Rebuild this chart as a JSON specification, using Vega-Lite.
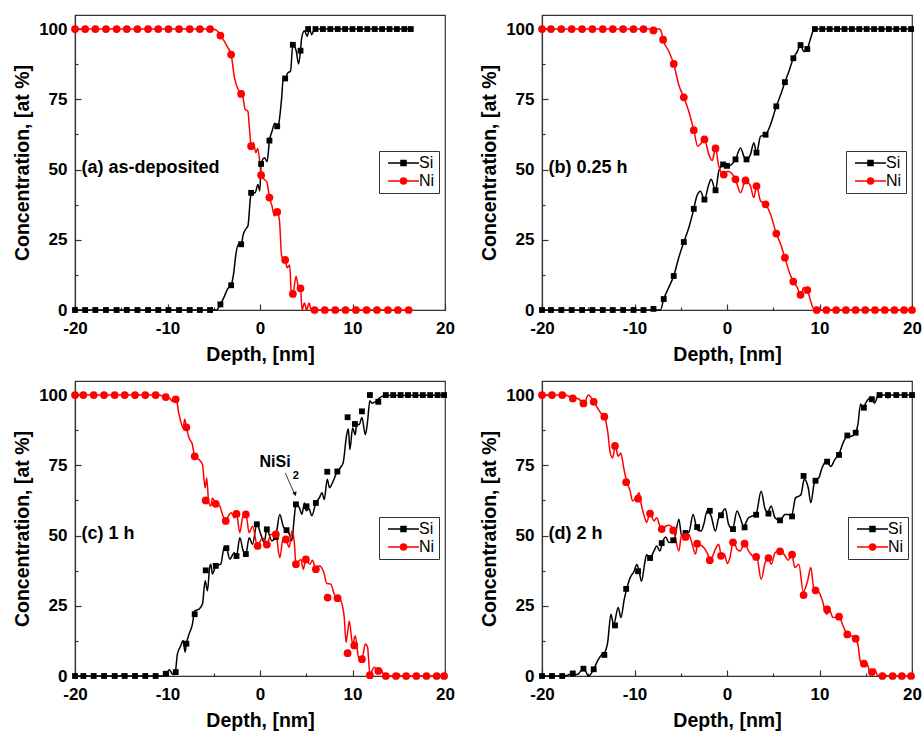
{
  "$schema": "https://vega.github.io/schema/vega-lite/v6.json",
  "padding": {"left": 12, "top": 14, "right": 0, "bottom": 0},
  "background": "white",
  "config": {
    "view": {"stroke": "#333", "strokeWidth": 1.2},
    "axis": {"labelFont": "Liberation Sans", "labelFontWeight": "bold", "labelFontSize": 17, "labelColor": "black", "titleFont": "Liberation Sans", "titleFontWeight": "bold", "titleFontSize": 19.5, "titleColor": "black", "domainColor": "#333", "domainWidth": 1.2, "tickColor": "#333", "tickWidth": 1.2, "grid": false}
  },
  "datasets": {
    "lines": [
      {"p":"a","s":"Si","d":-20,"c":0},{"p":"a","s":"Si","d":-4.7,"c":0},{"p":"a","s":"Si","d":-4.28,"c":2},{"p":"a","s":"Si","d":-3.9,"c":4.5},{"p":"a","s":"Si","d":-3.5,"c":7.5},{"p":"a","s":"Si","d":-3.12,"c":8.8},{"p":"a","s":"Si","d":-2.85,"c":13},{"p":"a","s":"Si","d":-2.6,"c":20},{"p":"a","s":"Si","d":-2.3,"c":23.5},{"p":"a","s":"Si","d":-2.04,"c":23.4},{"p":"a","s":"Si","d":-1.8,"c":27},{"p":"a","s":"Si","d":-1.5,"c":29},{"p":"a","s":"Si","d":-1.3,"c":30},{"p":"a","s":"Si","d":-1.03,"c":40},{"p":"a","s":"Si","d":-0.9,"c":41.7},{"p":"a","s":"Si","d":-0.52,"c":41.7},{"p":"a","s":"Si","d":-0.23,"c":44.7},{"p":"a","s":"Si","d":-0.02,"c":42.4},{"p":"a","s":"Si","d":0.12,"c":52},{"p":"a","s":"Si","d":0.48,"c":54.2},{"p":"a","s":"Si","d":0.77,"c":52.8},{"p":"a","s":"Si","d":1.02,"c":60.3},{"p":"a","s":"Si","d":1.3,"c":63.6},{"p":"a","s":"Si","d":1.6,"c":66.5},{"p":"a","s":"Si","d":1.86,"c":65.4},{"p":"a","s":"Si","d":2.0,"c":66},{"p":"a","s":"Si","d":2.34,"c":75.5},{"p":"a","s":"Si","d":2.52,"c":82.6},{"p":"a","s":"Si","d":2.72,"c":82.4},{"p":"a","s":"Si","d":3.01,"c":84.4},{"p":"a","s":"Si","d":3.3,"c":85},{"p":"a","s":"Si","d":3.55,"c":94.4},{"p":"a","s":"Si","d":3.92,"c":92.1},{"p":"a","s":"Si","d":4.17,"c":87.6},{"p":"a","s":"Si","d":4.38,"c":92.3},{"p":"a","s":"Si","d":4.5,"c":96.8},{"p":"a","s":"Si","d":4.81,"c":99.4},{"p":"a","s":"Si","d":5.1,"c":97.4},{"p":"a","s":"Si","d":5.35,"c":100},{"p":"a","s":"Si","d":5.6,"c":98},{"p":"a","s":"Si","d":5.9,"c":100},{"p":"a","s":"Si","d":16.3,"c":100},
      {"p":"a","s":"Ni","d":-20,"c":100},{"p":"a","s":"Ni","d":-5.1,"c":100},{"p":"a","s":"Ni","d":-4.6,"c":99.3},{"p":"a","s":"Ni","d":-4.28,"c":97.7},{"p":"a","s":"Ni","d":-3.85,"c":95.6},{"p":"a","s":"Ni","d":-3.5,"c":93.5},{"p":"a","s":"Ni","d":-3.12,"c":90.9},{"p":"a","s":"Ni","d":-2.76,"c":82.6},{"p":"a","s":"Ni","d":-2.33,"c":78.3},{"p":"a","s":"Ni","d":-2.04,"c":76.9},{"p":"a","s":"Ni","d":-1.86,"c":76},{"p":"a","s":"Ni","d":-1.61,"c":71.4},{"p":"a","s":"Ni","d":-1.32,"c":70.8},{"p":"a","s":"Ni","d":-1.1,"c":63},{"p":"a","s":"Ni","d":-0.96,"c":58.3},{"p":"a","s":"Ni","d":-0.7,"c":59.5},{"p":"a","s":"Ni","d":-0.45,"c":56},{"p":"a","s":"Ni","d":-0.25,"c":57.5},{"p":"a","s":"Ni","d":0.0,"c":52},{"p":"a","s":"Ni","d":0.12,"c":48},{"p":"a","s":"Ni","d":0.45,"c":46.5},{"p":"a","s":"Ni","d":0.75,"c":45.5},{"p":"a","s":"Ni","d":1.02,"c":40},{"p":"a","s":"Ni","d":1.3,"c":37},{"p":"a","s":"Ni","d":1.55,"c":33.5},{"p":"a","s":"Ni","d":1.86,"c":34.9},{"p":"a","s":"Ni","d":2.1,"c":32},{"p":"a","s":"Ni","d":2.35,"c":19},{"p":"a","s":"Ni","d":2.72,"c":17.8},{"p":"a","s":"Ni","d":2.95,"c":15},{"p":"a","s":"Ni","d":3.2,"c":16},{"p":"a","s":"Ni","d":3.4,"c":6},{"p":"a","s":"Ni","d":3.55,"c":5.7},{"p":"a","s":"Ni","d":3.9,"c":12},{"p":"a","s":"Ni","d":4.2,"c":7.5},{"p":"a","s":"Ni","d":4.38,"c":7.7},{"p":"a","s":"Ni","d":4.55,"c":0},{"p":"a","s":"Ni","d":4.8,"c":2.5},{"p":"a","s":"Ni","d":5.05,"c":0},{"p":"a","s":"Ni","d":5.3,"c":2.5},{"p":"a","s":"Ni","d":5.55,"c":0},{"p":"a","s":"Ni","d":16.3,"c":0},
      {"p":"b","s":"Si","d":-20,"c":0},{"p":"b","s":"Si","d":-7.2,"c":0},{"p":"b","s":"Si","d":-6.84,"c":3.9},{"p":"b","s":"Si","d":-6.3,"c":8},{"p":"b","s":"Si","d":-5.76,"c":12.1},{"p":"b","s":"Si","d":-5.22,"c":18.6},{"p":"b","s":"Si","d":-4.67,"c":24.2},{"p":"b","s":"Si","d":-4.13,"c":29.3},{"p":"b","s":"Si","d":-3.59,"c":36},{"p":"b","s":"Si","d":-3.27,"c":40.5},{"p":"b","s":"Si","d":-2.87,"c":42.3},{"p":"b","s":"Si","d":-2.44,"c":39.3},{"p":"b","s":"Si","d":-1.97,"c":44.7},{"p":"b","s":"Si","d":-1.71,"c":46.5},{"p":"b","s":"Si","d":-1.24,"c":42.6},{"p":"b","s":"Si","d":-0.89,"c":49.4},{"p":"b","s":"Si","d":-0.42,"c":51.8},{"p":"b","s":"Si","d":0.09,"c":51.2},{"p":"b","s":"Si","d":0.92,"c":53.6},{"p":"b","s":"Si","d":1.46,"c":57.7},{"p":"b","s":"Si","d":1.89,"c":54.2},{"p":"b","s":"Si","d":2.11,"c":53.6},{"p":"b","s":"Si","d":2.54,"c":55.4},{"p":"b","s":"Si","d":2.9,"c":59.5},{"p":"b","s":"Si","d":3.19,"c":56},{"p":"b","s":"Si","d":3.63,"c":61.8},{"p":"b","s":"Si","d":4.17,"c":62.4},{"p":"b","s":"Si","d":4.71,"c":66},{"p":"b","s":"Si","d":5.33,"c":72.5},{"p":"b","s":"Si","d":5.8,"c":76.6},{"p":"b","s":"Si","d":6.26,"c":81.1},{"p":"b","s":"Si","d":6.69,"c":84.9},{"p":"b","s":"Si","d":7.17,"c":89.6},{"p":"b","s":"Si","d":7.6,"c":92},{"p":"b","s":"Si","d":7.95,"c":94.3},{"p":"b","s":"Si","d":8.31,"c":92},{"p":"b","s":"Si","d":8.68,"c":92.9},{"p":"b","s":"Si","d":9.04,"c":96.7},{"p":"b","s":"Si","d":9.43,"c":100},{"p":"b","s":"Si","d":20,"c":100},
      {"p":"b","s":"Ni","d":-20,"c":100},{"p":"b","s":"Ni","d":-7.3,"c":100},{"p":"b","s":"Ni","d":-7.1,"c":99},{"p":"b","s":"Ni","d":-6.91,"c":96.2},{"p":"b","s":"Ni","d":-6.3,"c":92.1},{"p":"b","s":"Ni","d":-5.76,"c":87.6},{"p":"b","s":"Ni","d":-5.22,"c":80.2},{"p":"b","s":"Ni","d":-4.67,"c":75.7},{"p":"b","s":"Ni","d":-4.03,"c":69.6},{"p":"b","s":"Ni","d":-3.59,"c":64},{"p":"b","s":"Ni","d":-3.16,"c":58.3},{"p":"b","s":"Ni","d":-2.76,"c":59.5},{"p":"b","s":"Ni","d":-2.44,"c":60.7},{"p":"b","s":"Ni","d":-1.97,"c":55.4},{"p":"b","s":"Ni","d":-1.6,"c":53.2},{"p":"b","s":"Ni","d":-1.24,"c":57.5},{"p":"b","s":"Ni","d":-0.89,"c":51.2},{"p":"b","s":"Ni","d":-0.35,"c":48.2},{"p":"b","s":"Ni","d":0.09,"c":49.4},{"p":"b","s":"Ni","d":0.92,"c":46.5},{"p":"b","s":"Ni","d":1.46,"c":41.7},{"p":"b","s":"Ni","d":2.0,"c":46.1},{"p":"b","s":"Ni","d":2.54,"c":44.1},{"p":"b","s":"Ni","d":2.9,"c":40},{"p":"b","s":"Ni","d":3.19,"c":44.1},{"p":"b","s":"Ni","d":3.63,"c":38.8},{"p":"b","s":"Ni","d":4.17,"c":37.6},{"p":"b","s":"Ni","d":4.71,"c":34.1},{"p":"b","s":"Ni","d":5.33,"c":27.2},{"p":"b","s":"Ni","d":5.8,"c":23.4},{"p":"b","s":"Ni","d":6.26,"c":18.6},{"p":"b","s":"Ni","d":6.69,"c":13.9},{"p":"b","s":"Ni","d":7.17,"c":10.1},{"p":"b","s":"Ni","d":7.6,"c":8},{"p":"b","s":"Ni","d":7.95,"c":5.4},{"p":"b","s":"Ni","d":8.31,"c":8},{"p":"b","s":"Ni","d":8.68,"c":7.1},{"p":"b","s":"Ni","d":9.04,"c":3.2},{"p":"b","s":"Ni","d":9.4,"c":0.3},{"p":"b","s":"Ni","d":10.1,"c":0},{"p":"b","s":"Ni","d":20,"c":0},
      {"p":"c","s":"Si","d":-20,"c":0},{"p":"c","s":"Si","d":-10.6,"c":0},{"p":"c","s":"Si","d":-10.2,"c":0.5},{"p":"c","s":"Si","d":-9.8,"c":2.2},{"p":"c","s":"Si","d":-9.47,"c":0.7},{"p":"c","s":"Si","d":-9.2,"c":0.5},{"p":"c","s":"Si","d":-8.93,"c":7.8},{"p":"c","s":"Si","d":-8.57,"c":10.7},{"p":"c","s":"Si","d":-8.31,"c":12.6},{"p":"c","s":"Si","d":-8.1,"c":8.5},{"p":"c","s":"Si","d":-7.96,"c":11.5},{"p":"c","s":"Si","d":-7.67,"c":14.9},{"p":"c","s":"Si","d":-7.31,"c":18.4},{"p":"c","s":"Si","d":-7.06,"c":23.2},{"p":"c","s":"Si","d":-6.58,"c":23.8},{"p":"c","s":"Si","d":-6.22,"c":25.6},{"p":"c","s":"Si","d":-5.93,"c":33.9},{"p":"c","s":"Si","d":-5.68,"c":30.3},{"p":"c","s":"Si","d":-5.45,"c":38.5},{"p":"c","s":"Si","d":-5.32,"c":39.8},{"p":"c","s":"Si","d":-5.14,"c":36.3},{"p":"c","s":"Si","d":-4.78,"c":39.2},{"p":"c","s":"Si","d":-4.24,"c":39.8},{"p":"c","s":"Si","d":-3.88,"c":45.7},{"p":"c","s":"Si","d":-3.63,"c":45.5},{"p":"c","s":"Si","d":-3.26,"c":41.6},{"p":"c","s":"Si","d":-2.79,"c":43.9},{"p":"c","s":"Si","d":-2.54,"c":42.7},{"p":"c","s":"Si","d":-2.18,"c":49.2},{"p":"c","s":"Si","d":-1.82,"c":44.6},{"p":"c","s":"Si","d":-1.53,"c":43.4},{"p":"c","s":"Si","d":-1.17,"c":49.2},{"p":"c","s":"Si","d":-0.81,"c":46.9},{"p":"c","s":"Si","d":-0.34,"c":54},{"p":"c","s":"Si","d":0.09,"c":50.4},{"p":"c","s":"Si","d":0.45,"c":47.5},{"p":"c","s":"Si","d":0.74,"c":52.2},{"p":"c","s":"Si","d":1.29,"c":48.1},{"p":"c","s":"Si","d":1.71,"c":49.9},{"p":"c","s":"Si","d":2.14,"c":57.5},{"p":"c","s":"Si","d":2.51,"c":53.3},{"p":"c","s":"Si","d":2.87,"c":51.9},{"p":"c","s":"Si","d":3.19,"c":50.4},{"p":"c","s":"Si","d":3.44,"c":48.1},{"p":"c","s":"Si","d":3.7,"c":56.3},{"p":"c","s":"Si","d":3.88,"c":61.1},{"p":"c","s":"Si","d":4.24,"c":60},{"p":"c","s":"Si","d":4.53,"c":57.6},{"p":"c","s":"Si","d":4.8,"c":61.6},{"p":"c","s":"Si","d":5.0,"c":58.8},{"p":"c","s":"Si","d":5.3,"c":59.5},{"p":"c","s":"Si","d":5.6,"c":57},{"p":"c","s":"Si","d":6.04,"c":61.6},{"p":"c","s":"Si","d":6.41,"c":63.4},{"p":"c","s":"Si","d":6.7,"c":65.2},{"p":"c","s":"Si","d":6.95,"c":62.8},{"p":"c","s":"Si","d":7.27,"c":70},{"p":"c","s":"Si","d":7.52,"c":67},{"p":"c","s":"Si","d":7.89,"c":69.2},{"p":"c","s":"Si","d":8.36,"c":72.8},{"p":"c","s":"Si","d":8.7,"c":74.2},{"p":"c","s":"Si","d":8.99,"c":75.9},{"p":"c","s":"Si","d":9.35,"c":85.4},{"p":"c","s":"Si","d":9.55,"c":88},{"p":"c","s":"Si","d":9.72,"c":80.6},{"p":"c","s":"Si","d":10.01,"c":88.3},{"p":"c","s":"Si","d":10.3,"c":85.9},{"p":"c","s":"Si","d":10.44,"c":89.5},{"p":"c","s":"Si","d":10.73,"c":89.5},{"p":"c","s":"Si","d":11.02,"c":92},{"p":"c","s":"Si","d":11.39,"c":85.9},{"p":"c","s":"Si","d":11.63,"c":90.7},{"p":"c","s":"Si","d":11.88,"c":98},{"p":"c","s":"Si","d":12.1,"c":97.1},{"p":"c","s":"Si","d":12.5,"c":97.7},{"p":"c","s":"Si","d":12.9,"c":98.9},{"p":"c","s":"Si","d":13.44,"c":99.8},{"p":"c","s":"Si","d":20,"c":100},
      {"p":"c","s":"Ni","d":-20,"c":100},{"p":"c","s":"Ni","d":-11,"c":100},{"p":"c","s":"Ni","d":-10.19,"c":99.3},{"p":"c","s":"Ni","d":-9.8,"c":99},{"p":"c","s":"Ni","d":-9.47,"c":97.8},{"p":"c","s":"Ni","d":-9.04,"c":98.8},{"p":"c","s":"Ni","d":-8.82,"c":94.2},{"p":"c","s":"Ni","d":-8.57,"c":90.7},{"p":"c","s":"Ni","d":-8.31,"c":88.3},{"p":"c","s":"Ni","d":-8.14,"c":91.4},{"p":"c","s":"Ni","d":-7.96,"c":88.5},{"p":"c","s":"Ni","d":-7.67,"c":84.7},{"p":"c","s":"Ni","d":-7.31,"c":82.4},{"p":"c","s":"Ni","d":-7.06,"c":78.2},{"p":"c","s":"Ni","d":-6.58,"c":77},{"p":"c","s":"Ni","d":-6.22,"c":75.2},{"p":"c","s":"Ni","d":-5.93,"c":67},{"p":"c","s":"Ni","d":-5.76,"c":70.5},{"p":"c","s":"Ni","d":-5.55,"c":62},{"p":"c","s":"Ni","d":-5.32,"c":60.5},{"p":"c","s":"Ni","d":-5.14,"c":63.4},{"p":"c","s":"Ni","d":-4.78,"c":61.3},{"p":"c","s":"Ni","d":-4.35,"c":60.5},{"p":"c","s":"Ni","d":-4.06,"c":57.5},{"p":"c","s":"Ni","d":-3.7,"c":55.2},{"p":"c","s":"Ni","d":-3.33,"c":57.5},{"p":"c","s":"Ni","d":-3.09,"c":58.1},{"p":"c","s":"Ni","d":-2.79,"c":56.3},{"p":"c","s":"Ni","d":-2.54,"c":57.7},{"p":"c","s":"Ni","d":-2.18,"c":51},{"p":"c","s":"Ni","d":-1.89,"c":56.3},{"p":"c","s":"Ni","d":-1.53,"c":57.5},{"p":"c","s":"Ni","d":-1.17,"c":51},{"p":"c","s":"Ni","d":-0.81,"c":53.3},{"p":"c","s":"Ni","d":-0.27,"c":46.3},{"p":"c","s":"Ni","d":0.27,"c":49.2},{"p":"c","s":"Ni","d":0.74,"c":46.8},{"p":"c","s":"Ni","d":1.17,"c":50.4},{"p":"c","s":"Ni","d":1.71,"c":50.4},{"p":"c","s":"Ni","d":2.14,"c":42.1},{"p":"c","s":"Ni","d":2.51,"c":49.2},{"p":"c","s":"Ni","d":2.8,"c":48.6},{"p":"c","s":"Ni","d":3.16,"c":45.8},{"p":"c","s":"Ni","d":3.44,"c":51.6},{"p":"c","s":"Ni","d":3.7,"c":48.1},{"p":"c","s":"Ni","d":3.88,"c":39.8},{"p":"c","s":"Ni","d":4.42,"c":41.5},{"p":"c","s":"Ni","d":4.68,"c":38},{"p":"c","s":"Ni","d":4.96,"c":41.5},{"p":"c","s":"Ni","d":5.39,"c":39.8},{"p":"c","s":"Ni","d":5.68,"c":41.2},{"p":"c","s":"Ni","d":6.04,"c":38},{"p":"c","s":"Ni","d":6.41,"c":39.2},{"p":"c","s":"Ni","d":6.95,"c":36.3},{"p":"c","s":"Ni","d":7.2,"c":33},{"p":"c","s":"Ni","d":7.66,"c":32.7},{"p":"c","s":"Ni","d":8.03,"c":29.1},{"p":"c","s":"Ni","d":8.39,"c":28},{"p":"c","s":"Ni","d":8.74,"c":26.8},{"p":"c","s":"Ni","d":9.11,"c":20.8},{"p":"c","s":"Ni","d":9.3,"c":12},{"p":"c","s":"Ni","d":9.45,"c":15},{"p":"c","s":"Ni","d":9.65,"c":19.6},{"p":"c","s":"Ni","d":10.01,"c":11.4},{"p":"c","s":"Ni","d":10.3,"c":14.3},{"p":"c","s":"Ni","d":10.66,"c":6.6},{"p":"c","s":"Ni","d":11.02,"c":6},{"p":"c","s":"Ni","d":11.39,"c":11.4},{"p":"c","s":"Ni","d":11.63,"c":10.2},{"p":"c","s":"Ni","d":11.88,"c":0.7},{"p":"c","s":"Ni","d":12.36,"c":3.1},{"p":"c","s":"Ni","d":12.72,"c":1.9},{"p":"c","s":"Ni","d":13.07,"c":2.5},{"p":"c","s":"Ni","d":13.44,"c":0},{"p":"c","s":"Ni","d":20,"c":0},
      {"p":"d","s":"Si","d":-20,"c":0},{"p":"d","s":"Si","d":-17.5,"c":0},{"p":"d","s":"Si","d":-16.85,"c":0.7},{"p":"d","s":"Si","d":-16.2,"c":0.5},{"p":"d","s":"Si","d":-15.48,"c":2.8},{"p":"d","s":"Si","d":-14.99,"c":0},{"p":"d","s":"Si","d":-14.41,"c":2.4},{"p":"d","s":"Si","d":-13.98,"c":5.5},{"p":"d","s":"Si","d":-13.62,"c":7.3},{"p":"d","s":"Si","d":-13.27,"c":8.1},{"p":"d","s":"Si","d":-12.9,"c":12},{"p":"d","s":"Si","d":-12.55,"c":22},{"p":"d","s":"Si","d":-12.26,"c":18.2},{"p":"d","s":"Si","d":-11.76,"c":24.4},{"p":"d","s":"Si","d":-11.47,"c":20.8},{"p":"d","s":"Si","d":-11.11,"c":27.3},{"p":"d","s":"Si","d":-10.83,"c":31.2},{"p":"d","s":"Si","d":-10.47,"c":35},{"p":"d","s":"Si","d":-10.04,"c":37.3},{"p":"d","s":"Si","d":-9.75,"c":39.7},{"p":"d","s":"Si","d":-9.5,"c":37.3},{"p":"d","s":"Si","d":-9.25,"c":33.7},{"p":"d","s":"Si","d":-8.89,"c":40.3},{"p":"d","s":"Si","d":-8.7,"c":43.2},{"p":"d","s":"Si","d":-8.32,"c":42.1},{"p":"d","s":"Si","d":-7.89,"c":44.5},{"p":"d","s":"Si","d":-7.6,"c":46.3},{"p":"d","s":"Si","d":-7.25,"c":44.5},{"p":"d","s":"Si","d":-6.99,"c":47.5},{"p":"d","s":"Si","d":-6.63,"c":49.5},{"p":"d","s":"Si","d":-6.28,"c":47.5},{"p":"d","s":"Si","d":-5.74,"c":48.1},{"p":"d","s":"Si","d":-5.2,"c":55.8},{"p":"d","s":"Si","d":-4.91,"c":50},{"p":"d","s":"Si","d":-4.56,"c":51.2},{"p":"d","s":"Si","d":-4.13,"c":51.2},{"p":"d","s":"Si","d":-3.66,"c":57.5},{"p":"d","s":"Si","d":-3.23,"c":52.2},{"p":"d","s":"Si","d":-2.8,"c":51.6},{"p":"d","s":"Si","d":-2.51,"c":54},{"p":"d","s":"Si","d":-2.15,"c":58.7},{"p":"d","s":"Si","d":-1.72,"c":57},{"p":"d","s":"Si","d":-1.26,"c":51.6},{"p":"d","s":"Si","d":-0.9,"c":56.3},{"p":"d","s":"Si","d":-0.65,"c":57.5},{"p":"d","s":"Si","d":-0.18,"c":59.5},{"p":"d","s":"Si","d":0.17,"c":54},{"p":"d","s":"Si","d":0.6,"c":52.2},{"p":"d","s":"Si","d":1.08,"c":58.7},{"p":"d","s":"Si","d":1.43,"c":56.3},{"p":"d","s":"Si","d":1.79,"c":53.3},{"p":"d","s":"Si","d":2.32,"c":56.3},{"p":"d","s":"Si","d":2.76,"c":57},{"p":"d","s":"Si","d":3.15,"c":57.7},{"p":"d","s":"Si","d":3.69,"c":65.8},{"p":"d","s":"Si","d":4.12,"c":59.4},{"p":"d","s":"Si","d":4.41,"c":58.3},{"p":"d","s":"Si","d":4.77,"c":60.5},{"p":"d","s":"Si","d":5.19,"c":56.3},{"p":"d","s":"Si","d":5.73,"c":55.3},{"p":"d","s":"Si","d":6.27,"c":57.5},{"p":"d","s":"Si","d":6.62,"c":57.5},{"p":"d","s":"Si","d":6.99,"c":57.2},{"p":"d","s":"Si","d":7.41,"c":63.4},{"p":"d","s":"Si","d":7.77,"c":64},{"p":"d","s":"Si","d":8.0,"c":64.6},{"p":"d","s":"Si","d":8.35,"c":70},{"p":"d","s":"Si","d":8.78,"c":67},{"p":"d","s":"Si","d":9.06,"c":61.7},{"p":"d","s":"Si","d":9.49,"c":69.5},{"p":"d","s":"Si","d":9.92,"c":70.5},{"p":"d","s":"Si","d":10.28,"c":74.1},{"p":"d","s":"Si","d":10.75,"c":76.4},{"p":"d","s":"Si","d":11.22,"c":74.6},{"p":"d","s":"Si","d":11.65,"c":77},{"p":"d","s":"Si","d":12.11,"c":79},{"p":"d","s":"Si","d":12.54,"c":82.9},{"p":"d","s":"Si","d":13.01,"c":85.3},{"p":"d","s":"Si","d":13.44,"c":85.3},{"p":"d","s":"Si","d":13.87,"c":86.5},{"p":"d","s":"Si","d":14.15,"c":89.5},{"p":"d","s":"Si","d":14.44,"c":96.8},{"p":"d","s":"Si","d":14.69,"c":95.3},{"p":"d","s":"Si","d":15.05,"c":97.5},{"p":"d","s":"Si","d":15.59,"c":99.2},{"p":"d","s":"Si","d":15.95,"c":97.1},{"p":"d","s":"Si","d":16.37,"c":100},{"p":"d","s":"Si","d":17.0,"c":100},{"p":"d","s":"Si","d":17.4,"c":99},{"p":"d","s":"Si","d":17.8,"c":100},{"p":"d","s":"Si","d":20,"c":100},
      {"p":"d","s":"Ni","d":-20,"c":100},{"p":"d","s":"Ni","d":-17.5,"c":100},{"p":"d","s":"Ni","d":-16.85,"c":99.2},{"p":"d","s":"Ni","d":-16.5,"c":99},{"p":"d","s":"Ni","d":-16.0,"c":98.5},{"p":"d","s":"Ni","d":-15.48,"c":96.8},{"p":"d","s":"Ni","d":-14.99,"c":100},{"p":"d","s":"Ni","d":-14.41,"c":97.7},{"p":"d","s":"Ni","d":-13.98,"c":95.3},{"p":"d","s":"Ni","d":-13.62,"c":93.5},{"p":"d","s":"Ni","d":-13.27,"c":92.4},{"p":"d","s":"Ni","d":-12.9,"c":87.1},{"p":"d","s":"Ni","d":-12.62,"c":79.4},{"p":"d","s":"Ni","d":-12.37,"c":77.6},{"p":"d","s":"Ni","d":-12.08,"c":81.8},{"p":"d","s":"Ni","d":-11.76,"c":78.2},{"p":"d","s":"Ni","d":-11.47,"c":79.4},{"p":"d","s":"Ni","d":-11.18,"c":74.3},{"p":"d","s":"Ni","d":-10.83,"c":69.1},{"p":"d","s":"Ni","d":-10.47,"c":65.8},{"p":"d","s":"Ni","d":-10.22,"c":62.3},{"p":"d","s":"Ni","d":-9.86,"c":63.4},{"p":"d","s":"Ni","d":-9.5,"c":65.2},{"p":"d","s":"Ni","d":-9.25,"c":60.7},{"p":"d","s":"Ni","d":-8.89,"c":56.3},{"p":"d","s":"Ni","d":-8.7,"c":54.6},{"p":"d","s":"Ni","d":-8.32,"c":58.1},{"p":"d","s":"Ni","d":-7.89,"c":55.2},{"p":"d","s":"Ni","d":-7.6,"c":56.3},{"p":"d","s":"Ni","d":-7.25,"c":53.3},{"p":"d","s":"Ni","d":-6.99,"c":52.2},{"p":"d","s":"Ni","d":-6.63,"c":53.3},{"p":"d","s":"Ni","d":-6.28,"c":53.7},{"p":"d","s":"Ni","d":-5.74,"c":51.6},{"p":"d","s":"Ni","d":-5.2,"c":44.5},{"p":"d","s":"Ni","d":-4.91,"c":50.4},{"p":"d","s":"Ni","d":-4.56,"c":49.5},{"p":"d","s":"Ni","d":-4.13,"c":50.4},{"p":"d","s":"Ni","d":-3.76,"c":46.9},{"p":"d","s":"Ni","d":-3.41,"c":43.4},{"p":"d","s":"Ni","d":-3.16,"c":46.9},{"p":"d","s":"Ni","d":-2.69,"c":46.3},{"p":"d","s":"Ni","d":-2.15,"c":43.9},{"p":"d","s":"Ni","d":-1.8,"c":41.2},{"p":"d","s":"Ni","d":-1.26,"c":45.1},{"p":"d","s":"Ni","d":-0.9,"c":46.9},{"p":"d","s":"Ni","d":-0.61,"c":42.8},{"p":"d","s":"Ni","d":-0.3,"c":43.5},{"p":"d","s":"Ni","d":0.05,"c":40},{"p":"d","s":"Ni","d":0.3,"c":42},{"p":"d","s":"Ni","d":0.71,"c":48.1},{"p":"d","s":"Ni","d":1.08,"c":45.1},{"p":"d","s":"Ni","d":1.43,"c":44.5},{"p":"d","s":"Ni","d":1.9,"c":47.5},{"p":"d","s":"Ni","d":2.32,"c":44.5},{"p":"d","s":"Ni","d":2.76,"c":42.8},{"p":"d","s":"Ni","d":3.22,"c":42.4},{"p":"d","s":"Ni","d":3.69,"c":34.4},{"p":"d","s":"Ni","d":4.12,"c":40.3},{"p":"d","s":"Ni","d":4.44,"c":42.1},{"p":"d","s":"Ni","d":4.8,"c":39.8},{"p":"d","s":"Ni","d":5.19,"c":43.9},{"p":"d","s":"Ni","d":5.73,"c":44.8},{"p":"d","s":"Ni","d":6.27,"c":42.8},{"p":"d","s":"Ni","d":6.62,"c":41.2},{"p":"d","s":"Ni","d":6.99,"c":43.6},{"p":"d","s":"Ni","d":7.34,"c":38.6},{"p":"d","s":"Ni","d":7.77,"c":39.8},{"p":"d","s":"Ni","d":8.24,"c":30},{"p":"d","s":"Ni","d":8.71,"c":33.8},{"p":"d","s":"Ni","d":9.06,"c":38.6},{"p":"d","s":"Ni","d":9.42,"c":30.5},{"p":"d","s":"Ni","d":9.85,"c":30.2},{"p":"d","s":"Ni","d":10.28,"c":27.2},{"p":"d","s":"Ni","d":10.75,"c":22},{"p":"d","s":"Ni","d":11.11,"c":23.2},{"p":"d","s":"Ni","d":11.46,"c":20.8},{"p":"d","s":"Ni","d":12.11,"c":21.1},{"p":"d","s":"Ni","d":12.54,"c":17.9},{"p":"d","s":"Ni","d":13.01,"c":14.9},{"p":"d","s":"Ni","d":13.44,"c":14.3},{"p":"d","s":"Ni","d":13.83,"c":13.7},{"p":"d","s":"Ni","d":14.15,"c":11.3},{"p":"d","s":"Ni","d":14.44,"c":4.9},{"p":"d","s":"Ni","d":14.69,"c":4.3},{"p":"d","s":"Ni","d":15.05,"c":4.9},{"p":"d","s":"Ni","d":15.52,"c":1.3},{"p":"d","s":"Ni","d":15.95,"c":2.5},{"p":"d","s":"Ni","d":16.3,"c":0.1},{"p":"d","s":"Ni","d":16.84,"c":0.9},{"p":"d","s":"Ni","d":17.38,"c":0},{"p":"d","s":"Ni","d":17.91,"c":0.6},{"p":"d","s":"Ni","d":18.4,"c":0},{"p":"d","s":"Ni","d":20,"c":0}
    ],
    "marks": [
      {"p":"a","s":"Si","d":-20,"c":0},{"p":"a","s":"Si","d":-18.9,"c":0},{"p":"a","s":"Si","d":-17.8,"c":0},{"p":"a","s":"Si","d":-16.65,"c":0},{"p":"a","s":"Si","d":-15.5,"c":0},{"p":"a","s":"Si","d":-14.4,"c":0},{"p":"a","s":"Si","d":-13.25,"c":0},{"p":"a","s":"Si","d":-12.1,"c":0},{"p":"a","s":"Si","d":-11.0,"c":0},{"p":"a","s":"Si","d":-9.9,"c":0},{"p":"a","s":"Si","d":-8.75,"c":0},{"p":"a","s":"Si","d":-7.6,"c":0},{"p":"a","s":"Si","d":-6.5,"c":0},{"p":"a","s":"Si","d":-5.4,"c":0},{"p":"a","s":"Si","d":-4.28,"c":2},{"p":"a","s":"Si","d":-3.12,"c":8.8},{"p":"a","s":"Si","d":-2.04,"c":23.4},{"p":"a","s":"Si","d":-0.96,"c":41.7},{"p":"a","s":"Si","d":0.12,"c":52},{"p":"a","s":"Si","d":1.02,"c":60.3},{"p":"a","s":"Si","d":1.86,"c":65.4},{"p":"a","s":"Si","d":2.72,"c":82.4},{"p":"a","s":"Si","d":3.55,"c":94.4},{"p":"a","s":"Si","d":4.38,"c":92.3},{"p":"a","s":"Si","d":5.2,"c":100},{"p":"a","s":"Si","d":6.0,"c":100},{"p":"a","s":"Si","d":6.8,"c":100},{"p":"a","s":"Si","d":7.6,"c":100},{"p":"a","s":"Si","d":8.4,"c":100},{"p":"a","s":"Si","d":9.2,"c":100},{"p":"a","s":"Si","d":10.0,"c":100},{"p":"a","s":"Si","d":10.8,"c":100},{"p":"a","s":"Si","d":11.6,"c":100},{"p":"a","s":"Si","d":12.4,"c":100},{"p":"a","s":"Si","d":13.2,"c":100},{"p":"a","s":"Si","d":14.0,"c":100},{"p":"a","s":"Si","d":14.8,"c":100},{"p":"a","s":"Si","d":15.6,"c":100},{"p":"a","s":"Si","d":16.3,"c":100},
      {"p":"a","s":"Ni","d":-20,"c":100},{"p":"a","s":"Ni","d":-18.9,"c":100},{"p":"a","s":"Ni","d":-17.8,"c":100},{"p":"a","s":"Ni","d":-16.65,"c":100},{"p":"a","s":"Ni","d":-15.5,"c":100},{"p":"a","s":"Ni","d":-14.4,"c":100},{"p":"a","s":"Ni","d":-13.25,"c":100},{"p":"a","s":"Ni","d":-12.1,"c":100},{"p":"a","s":"Ni","d":-11.0,"c":100},{"p":"a","s":"Ni","d":-9.9,"c":100},{"p":"a","s":"Ni","d":-8.75,"c":100},{"p":"a","s":"Ni","d":-7.6,"c":100},{"p":"a","s":"Ni","d":-6.5,"c":100},{"p":"a","s":"Ni","d":-5.4,"c":100},{"p":"a","s":"Ni","d":-4.28,"c":97.7},{"p":"a","s":"Ni","d":-3.12,"c":90.9},{"p":"a","s":"Ni","d":-2.04,"c":76.9},{"p":"a","s":"Ni","d":-0.96,"c":58.3},{"p":"a","s":"Ni","d":0.12,"c":48},{"p":"a","s":"Ni","d":1.02,"c":40},{"p":"a","s":"Ni","d":1.86,"c":34.9},{"p":"a","s":"Ni","d":2.72,"c":17.8},{"p":"a","s":"Ni","d":3.55,"c":5.7},{"p":"a","s":"Ni","d":4.38,"c":7.7},{"p":"a","s":"Ni","d":5.9,"c":0},{"p":"a","s":"Ni","d":7.0,"c":0},{"p":"a","s":"Ni","d":8.13,"c":0},{"p":"a","s":"Ni","d":9.25,"c":0},{"p":"a","s":"Ni","d":10.37,"c":0},{"p":"a","s":"Ni","d":11.52,"c":0},{"p":"a","s":"Ni","d":12.64,"c":0},{"p":"a","s":"Ni","d":13.83,"c":0},{"p":"a","s":"Ni","d":14.91,"c":0},{"p":"a","s":"Ni","d":16.07,"c":0},
      {"p":"b","s":"Si","d":-20,"c":0},{"p":"b","s":"Si","d":-19.03,"c":0},{"p":"b","s":"Si","d":-17.91,"c":0},{"p":"b","s":"Si","d":-16.79,"c":0},{"p":"b","s":"Si","d":-15.67,"c":0},{"p":"b","s":"Si","d":-14.55,"c":0},{"p":"b","s":"Si","d":-13.43,"c":0},{"p":"b","s":"Si","d":-12.35,"c":0},{"p":"b","s":"Si","d":-11.23,"c":0},{"p":"b","s":"Si","d":-10.11,"c":0},{"p":"b","s":"Si","d":-9.03,"c":0},{"p":"b","s":"Si","d":-7.95,"c":0.4},{"p":"b","s":"Si","d":-6.84,"c":3.9},{"p":"b","s":"Si","d":-5.76,"c":12.1},{"p":"b","s":"Si","d":-4.67,"c":24.2},{"p":"b","s":"Si","d":-3.59,"c":36},{"p":"b","s":"Si","d":-2.44,"c":39.3},{"p":"b","s":"Si","d":-1.24,"c":42.6},{"p":"b","s":"Si","d":-0.42,"c":51.8},{"p":"b","s":"Si","d":0.0,"c":51.3},{"p":"b","s":"Si","d":0.92,"c":53.6},{"p":"b","s":"Si","d":2.11,"c":53.6},{"p":"b","s":"Si","d":3.19,"c":56},{"p":"b","s":"Si","d":4.17,"c":62.4},{"p":"b","s":"Si","d":5.33,"c":72.5},{"p":"b","s":"Si","d":6.26,"c":81.1},{"p":"b","s":"Si","d":7.17,"c":89.6},{"p":"b","s":"Si","d":7.95,"c":94.3},{"p":"b","s":"Si","d":8.68,"c":92.9},{"p":"b","s":"Si","d":9.5,"c":100},{"p":"b","s":"Si","d":10.3,"c":100},{"p":"b","s":"Si","d":11.1,"c":100},{"p":"b","s":"Si","d":11.9,"c":100},{"p":"b","s":"Si","d":12.7,"c":100},{"p":"b","s":"Si","d":13.5,"c":100},{"p":"b","s":"Si","d":14.3,"c":100},{"p":"b","s":"Si","d":15.1,"c":100},{"p":"b","s":"Si","d":15.9,"c":100},{"p":"b","s":"Si","d":16.7,"c":100},{"p":"b","s":"Si","d":17.5,"c":100},{"p":"b","s":"Si","d":18.3,"c":100},{"p":"b","s":"Si","d":19.1,"c":100},{"p":"b","s":"Si","d":19.9,"c":100},
      {"p":"b","s":"Ni","d":-20,"c":100},{"p":"b","s":"Ni","d":-19.03,"c":100},{"p":"b","s":"Ni","d":-17.91,"c":100},{"p":"b","s":"Ni","d":-16.79,"c":100},{"p":"b","s":"Ni","d":-15.67,"c":100},{"p":"b","s":"Ni","d":-14.55,"c":100},{"p":"b","s":"Ni","d":-13.43,"c":100},{"p":"b","s":"Ni","d":-12.35,"c":100},{"p":"b","s":"Ni","d":-11.23,"c":100},{"p":"b","s":"Ni","d":-10.11,"c":100},{"p":"b","s":"Ni","d":-9.03,"c":100},{"p":"b","s":"Ni","d":-7.95,"c":99.5},{"p":"b","s":"Ni","d":-6.91,"c":96.2},{"p":"b","s":"Ni","d":-5.76,"c":87.6},{"p":"b","s":"Ni","d":-4.67,"c":75.7},{"p":"b","s":"Ni","d":-3.59,"c":64},{"p":"b","s":"Ni","d":-2.44,"c":60.7},{"p":"b","s":"Ni","d":-1.24,"c":57.5},{"p":"b","s":"Ni","d":-0.35,"c":48.2},{"p":"b","s":"Ni","d":0.92,"c":46.5},{"p":"b","s":"Ni","d":2.0,"c":46.1},{"p":"b","s":"Ni","d":3.19,"c":44.1},{"p":"b","s":"Ni","d":4.17,"c":37.6},{"p":"b","s":"Ni","d":5.33,"c":27.2},{"p":"b","s":"Ni","d":6.26,"c":18.6},{"p":"b","s":"Ni","d":7.17,"c":10.1},{"p":"b","s":"Ni","d":7.95,"c":5.4},{"p":"b","s":"Ni","d":8.68,"c":7.1},{"p":"b","s":"Ni","d":9.7,"c":0},{"p":"b","s":"Ni","d":10.75,"c":0},{"p":"b","s":"Ni","d":11.8,"c":0},{"p":"b","s":"Ni","d":12.85,"c":0},{"p":"b","s":"Ni","d":13.9,"c":0},{"p":"b","s":"Ni","d":14.95,"c":0},{"p":"b","s":"Ni","d":16.0,"c":0},{"p":"b","s":"Ni","d":17.05,"c":0},{"p":"b","s":"Ni","d":18.1,"c":0},{"p":"b","s":"Ni","d":19.15,"c":0},{"p":"b","s":"Ni","d":20,"c":0},
      {"p":"c","s":"Si","d":-20,"c":0},{"p":"c","s":"Si","d":-19.1,"c":0},{"p":"c","s":"Si","d":-17.98,"c":0},{"p":"c","s":"Si","d":-16.86,"c":0},{"p":"c","s":"Si","d":-15.71,"c":0},{"p":"c","s":"Si","d":-14.63,"c":0},{"p":"c","s":"Si","d":-13.51,"c":0},{"p":"c","s":"Si","d":-12.4,"c":0},{"p":"c","s":"Si","d":-11.28,"c":0},{"p":"c","s":"Si","d":-10.19,"c":0.8},{"p":"c","s":"Si","d":-9.11,"c":1.4},{"p":"c","s":"Si","d":-7.96,"c":11.5},{"p":"c","s":"Si","d":-7.06,"c":22},{"p":"c","s":"Si","d":-5.87,"c":37.6},{"p":"c","s":"Si","d":-4.78,"c":39.2},{"p":"c","s":"Si","d":-3.63,"c":45.5},{"p":"c","s":"Si","d":-2.54,"c":42.7},{"p":"c","s":"Si","d":-1.53,"c":43.4},{"p":"c","s":"Si","d":-0.34,"c":54},{"p":"c","s":"Si","d":0.74,"c":52.2},{"p":"c","s":"Si","d":1.71,"c":49.5},{"p":"c","s":"Si","d":2.87,"c":51.9},{"p":"c","s":"Si","d":3.88,"c":61.1},{"p":"c","s":"Si","d":5.03,"c":60.4},{"p":"c","s":"Si","d":6.04,"c":61.6},{"p":"c","s":"Si","d":7.27,"c":72.7},{"p":"c","s":"Si","d":8.36,"c":72.8},{"p":"c","s":"Si","d":9.47,"c":92.1},{"p":"c","s":"Si","d":10.26,"c":89.7},{"p":"c","s":"Si","d":11.02,"c":94.2},{"p":"c","s":"Si","d":11.88,"c":100},{"p":"c","s":"Si","d":12.79,"c":97.6},{"p":"c","s":"Si","d":13.6,"c":100},{"p":"c","s":"Si","d":14.4,"c":100},{"p":"c","s":"Si","d":15.2,"c":100},{"p":"c","s":"Si","d":16.0,"c":100},{"p":"c","s":"Si","d":16.8,"c":100},{"p":"c","s":"Si","d":17.6,"c":100},{"p":"c","s":"Si","d":18.4,"c":100},{"p":"c","s":"Si","d":19.2,"c":100},{"p":"c","s":"Si","d":19.9,"c":100},
      {"p":"c","s":"Ni","d":-20,"c":100},{"p":"c","s":"Ni","d":-19.1,"c":100},{"p":"c","s":"Ni","d":-17.98,"c":100},{"p":"c","s":"Ni","d":-16.86,"c":100},{"p":"c","s":"Ni","d":-15.71,"c":100},{"p":"c","s":"Ni","d":-14.63,"c":100},{"p":"c","s":"Ni","d":-13.51,"c":100},{"p":"c","s":"Ni","d":-12.4,"c":100},{"p":"c","s":"Ni","d":-11.28,"c":100},{"p":"c","s":"Ni","d":-10.19,"c":99.3},{"p":"c","s":"Ni","d":-9.11,"c":98.5},{"p":"c","s":"Ni","d":-7.96,"c":88.5},{"p":"c","s":"Ni","d":-7.06,"c":78.2},{"p":"c","s":"Ni","d":-5.87,"c":62.5},{"p":"c","s":"Ni","d":-4.78,"c":61.3},{"p":"c","s":"Ni","d":-3.7,"c":55.2},{"p":"c","s":"Ni","d":-2.54,"c":57.7},{"p":"c","s":"Ni","d":-1.53,"c":57.5},{"p":"c","s":"Ni","d":-0.27,"c":46.3},{"p":"c","s":"Ni","d":0.74,"c":46.8},{"p":"c","s":"Ni","d":1.71,"c":50.4},{"p":"c","s":"Ni","d":2.8,"c":48.6},{"p":"c","s":"Ni","d":3.88,"c":39.8},{"p":"c","s":"Ni","d":4.96,"c":41.5},{"p":"c","s":"Ni","d":6.04,"c":38},{"p":"c","s":"Ni","d":7.31,"c":27.9},{"p":"c","s":"Ni","d":8.39,"c":27.7},{"p":"c","s":"Ni","d":9.47,"c":8.1},{"p":"c","s":"Ni","d":10.19,"c":10.9},{"p":"c","s":"Ni","d":11.02,"c":6},{"p":"c","s":"Ni","d":11.88,"c":0.3},{"p":"c","s":"Ni","d":12.79,"c":1.8},{"p":"c","s":"Ni","d":13.6,"c":0},{"p":"c","s":"Ni","d":14.7,"c":0},{"p":"c","s":"Ni","d":15.8,"c":0},{"p":"c","s":"Ni","d":16.9,"c":0},{"p":"c","s":"Ni","d":18.0,"c":0},{"p":"c","s":"Ni","d":19.1,"c":0},{"p":"c","s":"Ni","d":19.9,"c":0},
      {"p":"d","s":"Si","d":-20,"c":0},{"p":"d","s":"Si","d":-18.92,"c":0},{"p":"d","s":"Si","d":-17.81,"c":0},{"p":"d","s":"Si","d":-16.67,"c":0.9},{"p":"d","s":"Si","d":-15.52,"c":2.6},{"p":"d","s":"Si","d":-14.41,"c":2.4},{"p":"d","s":"Si","d":-13.26,"c":7.5},{"p":"d","s":"Si","d":-12.11,"c":18},{"p":"d","s":"Si","d":-10.9,"c":31},{"p":"d","s":"Si","d":-9.61,"c":37.3},{"p":"d","s":"Si","d":-8.32,"c":42},{"p":"d","s":"Si","d":-7.06,"c":47.3},{"p":"d","s":"Si","d":-5.81,"c":48.3},{"p":"d","s":"Si","d":-4.48,"c":50.9},{"p":"d","s":"Si","d":-3.23,"c":53},{"p":"d","s":"Si","d":-1.86,"c":58.8},{"p":"d","s":"Si","d":-0.65,"c":57.2},{"p":"d","s":"Si","d":0.65,"c":52.3},{"p":"d","s":"Si","d":1.9,"c":52.9},{"p":"d","s":"Si","d":3.15,"c":57.4},{"p":"d","s":"Si","d":4.48,"c":57.8},{"p":"d","s":"Si","d":5.73,"c":55.4},{"p":"d","s":"Si","d":7.03,"c":56.8},{"p":"d","s":"Si","d":8.28,"c":71.2},{"p":"d","s":"Si","d":9.57,"c":69.5},{"p":"d","s":"Si","d":10.82,"c":76.3},{"p":"d","s":"Si","d":12.11,"c":78.7},{"p":"d","s":"Si","d":13.01,"c":85.6},{"p":"d","s":"Si","d":13.91,"c":86.6},{"p":"d","s":"Si","d":14.8,"c":95.5},{"p":"d","s":"Si","d":15.66,"c":98.5},{"p":"d","s":"Si","d":16.49,"c":100},{"p":"d","s":"Si","d":17.4,"c":100},{"p":"d","s":"Si","d":18.3,"c":100},{"p":"d","s":"Si","d":19.2,"c":100},{"p":"d","s":"Si","d":20,"c":100},
      {"p":"d","s":"Ni","d":-20,"c":100},{"p":"d","s":"Ni","d":-18.92,"c":100},{"p":"d","s":"Ni","d":-17.81,"c":100},{"p":"d","s":"Ni","d":-16.67,"c":98.8},{"p":"d","s":"Ni","d":-15.52,"c":97},{"p":"d","s":"Ni","d":-14.41,"c":97.6},{"p":"d","s":"Ni","d":-13.26,"c":92.3},{"p":"d","s":"Ni","d":-12.11,"c":81.9},{"p":"d","s":"Ni","d":-10.9,"c":69},{"p":"d","s":"Ni","d":-9.61,"c":63.1},{"p":"d","s":"Ni","d":-8.32,"c":57.8},{"p":"d","s":"Ni","d":-7.06,"c":52.3},{"p":"d","s":"Ni","d":-5.81,"c":51.8},{"p":"d","s":"Ni","d":-4.48,"c":49.5},{"p":"d","s":"Ni","d":-3.23,"c":47.1},{"p":"d","s":"Ni","d":-1.86,"c":41.2},{"p":"d","s":"Ni","d":-0.65,"c":42.8},{"p":"d","s":"Ni","d":0.65,"c":47.6},{"p":"d","s":"Ni","d":1.9,"c":47.1},{"p":"d","s":"Ni","d":3.15,"c":42.4},{"p":"d","s":"Ni","d":4.48,"c":42},{"p":"d","s":"Ni","d":5.73,"c":44.4},{"p":"d","s":"Ni","d":7.03,"c":43.2},{"p":"d","s":"Ni","d":8.28,"c":28.8},{"p":"d","s":"Ni","d":9.57,"c":30.5},{"p":"d","s":"Ni","d":10.82,"c":23.7},{"p":"d","s":"Ni","d":12.11,"c":21.1},{"p":"d","s":"Ni","d":13.01,"c":14.8},{"p":"d","s":"Ni","d":13.91,"c":13.3},{"p":"d","s":"Ni","d":14.8,"c":4.4},{"p":"d","s":"Ni","d":15.66,"c":1.4},{"p":"d","s":"Ni","d":16.8,"c":0},{"p":"d","s":"Ni","d":17.9,"c":0},{"p":"d","s":"Ni","d":18.9,"c":0},{"p":"d","s":"Ni","d":19.9,"c":0}
    ],
    "notes": [
      {"p":"a","t":"(a) as-deposited","d":-19.3,"c":50.4},
      {"p":"b","t":"(b) 0.25 h","d":-19.3,"c":50.4},
      {"p":"c","t":"(c) 1 h","d":-19.3,"c":50.4},
      {"p":"d","t":"(d) 2 h","d":-19.3,"c":50.4}
    ],
    "callout": [{"t":"NiSi","d":-0.05,"c":76.3}],
    "callsub": [{"t":"2","d":3.55,"c":71.3}],
    "arrow": [{"d":2.73,"c":72.3,"d2":3.82,"c2":64.2}],
    "arrowhead": [{"d":3.8,"c":64.8}]
  },
  "resolve": {"scale": {"fill": "independent", "stroke": "independent", "shape": "independent"}},
  "columns": 2,
  "spacing": {"row": 15, "column": 23},
  "concat": [
    {
      "width": 370, "height": 295,
      "encoding": {
        "x": {"field": "d", "type": "quantitative", "title": "Depth, [nm]", "scale": {"domain": [-20, 20], "nice": false, "zero": false}, "axis": {"values": [-20,-15,-10,-5,0,5,10,15,20], "labelExpr": "datum.value % 10 === 0 ? replace(datum.label, '\u2212', '-') : ''", "tickSize": {"condition": {"test": "datum.value % 10 !== 0", "value": -3}, "value": -6}, "labelPadding": 16, "titlePadding": 6, "labelFlush": false, "labelOverlap": false}},
        "y": {"field": "c", "type": "quantitative", "title": "Concentration, [at %]", "scale": {"domain": [0, 105], "nice": false, "zero": false}, "axis": {"values": [0,12.5,25,37.5,50,62.5,75,87.5,100], "labelExpr": "datum.value % 25 === 0 ? datum.label : ''", "tickSize": {"condition": {"test": "datum.value % 25 !== 0", "value": -3}, "value": -6}, "labelPadding": 14, "titlePadding": 6, "labelOverlap": false}}
      },
      "layer": [
        {"data": {"name": "lines"}, "transform": [{"filter": "datum.p === 'a' && datum.s === 'Si'"}], "mark": {"type": "line", "color": "black", "strokeWidth": 1.5, "interpolate": "monotone"}},
        {"data": {"name": "lines"}, "transform": [{"filter": "datum.p === 'a' && datum.s === 'Ni'"}], "mark": {"type": "line", "color": "red", "strokeWidth": 1.5, "interpolate": "monotone"}},
        {"data": {"name": "marks"}, "transform": [{"filter": "datum.p === 'a' && datum.s === 'Si'"}], "mark": {"type": "point", "shape": "square", "filled": true, "color": "black", "opacity": 1, "size": 34}},
        {"data": {"name": "marks"}, "transform": [{"filter": "datum.p === 'a' && datum.s === 'Ni'"}], "mark": {"type": "point", "shape": "circle", "filled": true, "color": "red", "opacity": 1, "size": 60}},
        {"data": {"name": "marks"}, "transform": [{"filter": "false"}], "mark": {"type": "point", "filled": true, "opacity": 1},
         "encoding": {
           "fill": {"field": "s", "type": "nominal", "scale": {"domain": ["Si", "Ni"], "range": ["black", "red"]}, "legend": {"title": null, "orient": "none", "legendX": 304, "legendY": 136, "strokeColor": "#333", "fillColor": "white", "padding": 4, "labelFont": "Liberation Sans", "labelFontSize": 16, "labelColor": "black", "symbolSize": 36, "symbolStrokeWidth": 1.5, "labelOffset": 20, "rowPadding": 2}},
           "stroke": {"field": "s", "type": "nominal", "scale": {"domain": ["Si", "Ni"], "range": ["black", "red"]}},
           "shape": {"field": "s", "type": "nominal", "scale": {"domain": ["Si", "Ni"], "range": ["M-1,0H9.33M3.33,-0.83H5V0.83H3.33Z", "M-1,0H9.33M5.17,0A1,1,0,1,1,3.17,0A1,1,0,1,1,5.17,0Z"]}}
         }},
        {"data": {"name": "notes"}, "transform": [{"filter": "datum.p === 'a'"}], "mark": {"type": "text", "align": "left", "baseline": "middle", "font": "Liberation Sans", "fontWeight": "bold", "fontSize": 18, "color": "black"}, "encoding": {"text": {"field": "t"}}}
      ]
    },
    {
      "width": 370, "height": 295,
      "encoding": {
        "x": {"field": "d", "type": "quantitative", "title": "Depth, [nm]", "scale": {"domain": [-20, 20], "nice": false, "zero": false}, "axis": {"values": [-20,-15,-10,-5,0,5,10,15,20], "labelExpr": "datum.value % 10 === 0 ? replace(datum.label, '\u2212', '-') : ''", "tickSize": {"condition": {"test": "datum.value % 10 !== 0", "value": -3}, "value": -6}, "labelPadding": 16, "titlePadding": 6, "labelFlush": false, "labelOverlap": false}},
        "y": {"field": "c", "type": "quantitative", "title": "Concentration, [at %]", "scale": {"domain": [0, 105], "nice": false, "zero": false}, "axis": {"values": [0,12.5,25,37.5,50,62.5,75,87.5,100], "labelExpr": "datum.value % 25 === 0 ? datum.label : ''", "tickSize": {"condition": {"test": "datum.value % 25 !== 0", "value": -3}, "value": -6}, "labelPadding": 14, "titlePadding": 6, "labelOverlap": false}}
      },
      "layer": [
        {"data": {"name": "lines"}, "transform": [{"filter": "datum.p === 'b' && datum.s === 'Si'"}], "mark": {"type": "line", "color": "black", "strokeWidth": 1.5, "interpolate": "monotone"}},
        {"data": {"name": "lines"}, "transform": [{"filter": "datum.p === 'b' && datum.s === 'Ni'"}], "mark": {"type": "line", "color": "red", "strokeWidth": 1.5, "interpolate": "monotone"}},
        {"data": {"name": "marks"}, "transform": [{"filter": "datum.p === 'b' && datum.s === 'Si'"}], "mark": {"type": "point", "shape": "square", "filled": true, "color": "black", "opacity": 1, "size": 34}},
        {"data": {"name": "marks"}, "transform": [{"filter": "datum.p === 'b' && datum.s === 'Ni'"}], "mark": {"type": "point", "shape": "circle", "filled": true, "color": "red", "opacity": 1, "size": 60}},
        {"data": {"name": "marks"}, "transform": [{"filter": "false"}], "mark": {"type": "point", "filled": true, "opacity": 1},
         "encoding": {
           "fill": {"field": "s", "type": "nominal", "scale": {"domain": ["Si", "Ni"], "range": ["black", "red"]}, "legend": {"title": null, "orient": "none", "legendX": 304, "legendY": 136, "strokeColor": "#333", "fillColor": "white", "padding": 4, "labelFont": "Liberation Sans", "labelFontSize": 16, "labelColor": "black", "symbolSize": 36, "symbolStrokeWidth": 1.5, "labelOffset": 20, "rowPadding": 2}},
           "stroke": {"field": "s", "type": "nominal", "scale": {"domain": ["Si", "Ni"], "range": ["black", "red"]}},
           "shape": {"field": "s", "type": "nominal", "scale": {"domain": ["Si", "Ni"], "range": ["M-1,0H9.33M3.33,-0.83H5V0.83H3.33Z", "M-1,0H9.33M5.17,0A1,1,0,1,1,3.17,0A1,1,0,1,1,5.17,0Z"]}}
         }},
        {"data": {"name": "notes"}, "transform": [{"filter": "datum.p === 'b'"}], "mark": {"type": "text", "align": "left", "baseline": "middle", "font": "Liberation Sans", "fontWeight": "bold", "fontSize": 18, "color": "black"}, "encoding": {"text": {"field": "t"}}}
      ]
    },
    {
      "width": 370, "height": 295,
      "encoding": {
        "x": {"field": "d", "type": "quantitative", "title": "Depth, [nm]", "scale": {"domain": [-20, 20], "nice": false, "zero": false}, "axis": {"values": [-20,-15,-10,-5,0,5,10,15,20], "labelExpr": "datum.value % 10 === 0 ? replace(datum.label, '\u2212', '-') : ''", "tickSize": {"condition": {"test": "datum.value % 10 !== 0", "value": -3}, "value": -6}, "labelPadding": 16, "titlePadding": 6, "labelFlush": false, "labelOverlap": false}},
        "y": {"field": "c", "type": "quantitative", "title": "Concentration, [at %]", "scale": {"domain": [0, 105], "nice": false, "zero": false}, "axis": {"values": [0,12.5,25,37.5,50,62.5,75,87.5,100], "labelExpr": "datum.value % 25 === 0 ? datum.label : ''", "tickSize": {"condition": {"test": "datum.value % 25 !== 0", "value": -3}, "value": -6}, "labelPadding": 14, "titlePadding": 6, "labelOverlap": false}}
      },
      "layer": [
        {"data": {"name": "lines"}, "transform": [{"filter": "datum.p === 'c' && datum.s === 'Si'"}], "mark": {"type": "line", "color": "black", "strokeWidth": 1.5, "interpolate": "monotone"}},
        {"data": {"name": "lines"}, "transform": [{"filter": "datum.p === 'c' && datum.s === 'Ni'"}], "mark": {"type": "line", "color": "red", "strokeWidth": 1.5, "interpolate": "monotone"}},
        {"data": {"name": "marks"}, "transform": [{"filter": "datum.p === 'c' && datum.s === 'Si'"}], "mark": {"type": "point", "shape": "square", "filled": true, "color": "black", "opacity": 1, "size": 34}},
        {"data": {"name": "marks"}, "transform": [{"filter": "datum.p === 'c' && datum.s === 'Ni'"}], "mark": {"type": "point", "shape": "circle", "filled": true, "color": "red", "opacity": 1, "size": 60}},
        {"data": {"name": "marks"}, "transform": [{"filter": "false"}], "mark": {"type": "point", "filled": true, "opacity": 1},
         "encoding": {
           "fill": {"field": "s", "type": "nominal", "scale": {"domain": ["Si", "Ni"], "range": ["black", "red"]}, "legend": {"title": null, "orient": "none", "legendX": 304, "legendY": 136, "strokeColor": "#333", "fillColor": "white", "padding": 4, "labelFont": "Liberation Sans", "labelFontSize": 16, "labelColor": "black", "symbolSize": 36, "symbolStrokeWidth": 1.5, "labelOffset": 20, "rowPadding": 2}},
           "stroke": {"field": "s", "type": "nominal", "scale": {"domain": ["Si", "Ni"], "range": ["black", "red"]}},
           "shape": {"field": "s", "type": "nominal", "scale": {"domain": ["Si", "Ni"], "range": ["M-1,0H9.33M3.33,-0.83H5V0.83H3.33Z", "M-1,0H9.33M5.17,0A1,1,0,1,1,3.17,0A1,1,0,1,1,5.17,0Z"]}}
         }},
        {"data": {"name": "notes"}, "transform": [{"filter": "datum.p === 'c'"}], "mark": {"type": "text", "align": "left", "baseline": "middle", "font": "Liberation Sans", "fontWeight": "bold", "fontSize": 18, "color": "black"}, "encoding": {"text": {"field": "t"}}},
        {"data": {"name": "callout"}, "mark": {"type": "text", "align": "left", "baseline": "middle", "font": "Liberation Sans", "fontWeight": "bold", "fontSize": 16, "color": "black"}, "encoding": {"text": {"field": "t"}}},
        {"data": {"name": "callsub"}, "mark": {"type": "text", "align": "left", "baseline": "middle", "font": "Liberation Sans", "fontWeight": "bold", "fontSize": 11, "color": "black"}, "encoding": {"text": {"field": "t"}}},
        {"data": {"name": "arrow"}, "mark": {"type": "rule", "color": "black", "strokeWidth": 0.8}, "encoding": {"x2": {"field": "d2"}, "y2": {"field": "c2"}}},
        {"data": {"name": "arrowhead"}, "mark": {"type": "point", "shape": "triangle-up", "filled": true, "color": "black", "opacity": 1, "size": 22, "angle": 157}}
      ]
    },
    {
      "width": 370, "height": 295,
      "encoding": {
        "x": {"field": "d", "type": "quantitative", "title": "Depth, [nm]", "scale": {"domain": [-20, 20], "nice": false, "zero": false}, "axis": {"values": [-20,-15,-10,-5,0,5,10,15,20], "labelExpr": "datum.value % 10 === 0 ? replace(datum.label, '\u2212', '-') : ''", "tickSize": {"condition": {"test": "datum.value % 10 !== 0", "value": -3}, "value": -6}, "labelPadding": 16, "titlePadding": 6, "labelFlush": false, "labelOverlap": false}},
        "y": {"field": "c", "type": "quantitative", "title": "Concentration, [at %]", "scale": {"domain": [0, 105], "nice": false, "zero": false}, "axis": {"values": [0,12.5,25,37.5,50,62.5,75,87.5,100], "labelExpr": "datum.value % 25 === 0 ? datum.label : ''", "tickSize": {"condition": {"test": "datum.value % 25 !== 0", "value": -3}, "value": -6}, "labelPadding": 14, "titlePadding": 6, "labelOverlap": false}}
      },
      "layer": [
        {"data": {"name": "lines"}, "transform": [{"filter": "datum.p === 'd' && datum.s === 'Si'"}], "mark": {"type": "line", "color": "black", "strokeWidth": 1.5, "interpolate": "monotone"}},
        {"data": {"name": "lines"}, "transform": [{"filter": "datum.p === 'd' && datum.s === 'Ni'"}], "mark": {"type": "line", "color": "red", "strokeWidth": 1.5, "interpolate": "monotone"}},
        {"data": {"name": "marks"}, "transform": [{"filter": "datum.p === 'd' && datum.s === 'Si'"}], "mark": {"type": "point", "shape": "square", "filled": true, "color": "black", "opacity": 1, "size": 34}},
        {"data": {"name": "marks"}, "transform": [{"filter": "datum.p === 'd' && datum.s === 'Ni'"}], "mark": {"type": "point", "shape": "circle", "filled": true, "color": "red", "opacity": 1, "size": 60}},
        {"data": {"name": "marks"}, "transform": [{"filter": "false"}], "mark": {"type": "point", "filled": true, "opacity": 1},
         "encoding": {
           "fill": {"field": "s", "type": "nominal", "scale": {"domain": ["Si", "Ni"], "range": ["black", "red"]}, "legend": {"title": null, "orient": "none", "legendX": 306, "legendY": 136, "strokeColor": "#333", "fillColor": "white", "padding": 4, "labelFont": "Liberation Sans", "labelFontSize": 16, "labelColor": "black", "symbolSize": 36, "symbolStrokeWidth": 1.5, "labelOffset": 20, "rowPadding": 2}},
           "stroke": {"field": "s", "type": "nominal", "scale": {"domain": ["Si", "Ni"], "range": ["black", "red"]}},
           "shape": {"field": "s", "type": "nominal", "scale": {"domain": ["Si", "Ni"], "range": ["M-1,0H9.33M3.33,-0.83H5V0.83H3.33Z", "M-1,0H9.33M5.17,0A1,1,0,1,1,3.17,0A1,1,0,1,1,5.17,0Z"]}}
         }},
        {"data": {"name": "notes"}, "transform": [{"filter": "datum.p === 'd'"}], "mark": {"type": "text", "align": "left", "baseline": "middle", "font": "Liberation Sans", "fontWeight": "bold", "fontSize": 18, "color": "black"}, "encoding": {"text": {"field": "t"}}}
      ]
    }
  ]
}
